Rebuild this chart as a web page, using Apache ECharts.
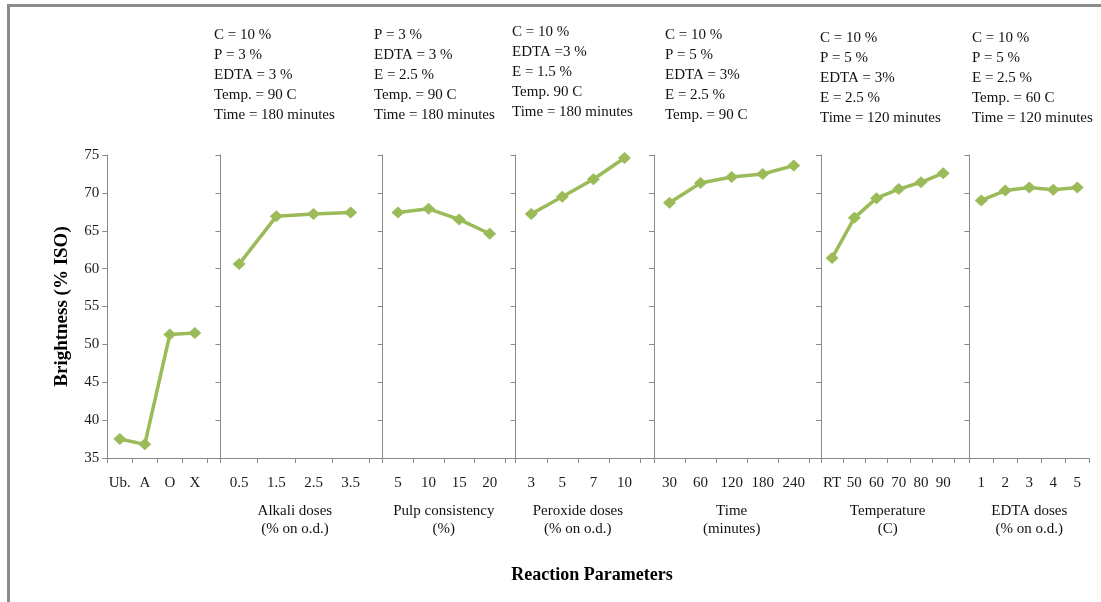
<!DOCTYPE html>
<html>
<head>
<meta charset="UTF-8">
<title>Brightness vs reaction parameters</title>
<style>
  html, body { margin: 0; padding: 0; background: #fff; }
  #main { width: 1101px; height: 602px; }
</style>
<script src="https://cdn.jsdelivr.net/npm/echarts@6/dist/echarts.min.js"></script>
</head>
<body>
<div id="main"></div>
<script>
// data
var stageCats = ['Ub.', 'A', 'O', 'X'];
var stageVals = [37.5, 36.8, 51.3, 51.5];
var alkaliCats = ['0.5', '1.5', '2.5', '3.5'];
var alkaliVals = [60.6, 66.9, 67.2, 67.4];
var pulpCats = ['5', '10', '15', '20'];
var pulpVals = [67.4, 67.9, 66.5, 64.6];
var peroxideCats = ['3', '5', '7', '10'];
var peroxideVals = [67.2, 69.5, 71.8, 74.6];
var timeCats = ['30', '60', '120', '180', '240'];
var timeVals = [68.7, 71.3, 72.1, 72.5, 73.6];
var tempCats = ['RT', '50', '60', '70', '80', '90'];
var tempVals = [61.4, 66.7, 69.3, 70.5, 71.4, 72.6];
var edtaCats = ['1', '2', '3', '4', '5'];
var edtaVals = [69.0, 70.3, 70.7, 70.4, 70.7];

var axisNames = ['', 'Alkali doses\n(% on o.d.)', 'Pulp consistency\n(%)', 'Peroxide doses\n(% on o.d.)',
  'Time\n(minutes)', 'Temperature\n(C)', 'EDTA doses\n(% on o.d.)'];

var notes = [
  ['C = 10 %', 'P = 3 %', 'EDTA = 3 %', 'Temp. = 90 C', 'Time = 180 minutes'],
  ['P = 3 %', 'EDTA = 3 %', 'E = 2.5 %', 'Temp. = 90 C', 'Time = 180 minutes'],
  ['C = 10 %', 'EDTA =3 %', 'E = 1.5 %', 'Temp. 90 C', 'Time = 180 minutes'],
  ['C = 10 %', 'P = 5 %', 'EDTA = 3%', 'E = 2.5 %', 'Temp. = 90 C'],
  ['C = 10 %', 'P = 5 %', 'EDTA = 3%', 'E = 2.5 %', 'Time = 120 minutes'],
  ['C = 10 %', 'P = 5 %', 'E = 2.5 %', 'Temp. = 60 C', 'Time = 120 minutes']
];

var allCats = [stageCats, alkaliCats, pulpCats, peroxideCats, timeCats, tempCats, edtaCats];
var allVals = [stageVals, alkaliVals, pulpVals, peroxideVals, timeVals, tempVals, edtaVals];

// layout (pixels)
var gridLeft = [107.3, 220.5, 382.7, 515.7, 654, 821, 969.3];
var gridRight = [207.3, 369.3, 505, 640, 809.3, 954.3, 1089.3];
var noteX = [214, 374, 512, 665, 820, 972];
var noteY = [25, 25, 22, 25, 28, 28];

var font = "'Liberation Serif', 'Times New Roman', serif";
var axisColor = '#898989';
var green = '#9BBB59';

var chart = echarts.init(document.getElementById('main'));

var grids = [], xAxes = [], yAxes = [], series = [];
for (var i = 0; i < allCats.length; i++) {
  grids.push({ left: gridLeft[i], width: gridRight[i] - gridLeft[i], top: 155, height: 303 });
  xAxes.push({
    type: 'category', gridIndex: i, data: allCats[i], boundaryGap: true,
    name: axisNames[i], nameLocation: 'middle', nameGap: 44,
    nameTextStyle: { fontFamily: font, fontSize: 15, color: '#111', lineHeight: 18 },
    axisLine: { show: true, lineStyle: { color: axisColor, width: 1 } },
    axisTick: { show: true, length: 5, lineStyle: { color: axisColor } },
    axisLabel: { interval: 0, margin: 18, fontFamily: font, fontSize: 15, color: '#1a1a1a' }
  });
  yAxes.push({
    type: 'value', gridIndex: i, min: 35, max: 75, interval: 5,
    name: i === 0 ? 'Brightness (% ISO)' : '', nameLocation: 'middle', nameGap: 36, nameRotate: 90,
    nameTextStyle: { fontFamily: font, fontSize: 19, fontWeight: 'bold', color: '#000' },
    axisLine: { show: true, lineStyle: { color: axisColor, width: 1 } },
    axisTick: { show: true, length: 5, lineStyle: { color: axisColor } },
    axisLabel: { show: i === 0, margin: 8, fontFamily: font, fontSize: 15, color: '#1a1a1a' },
    splitLine: { show: false }
  });
  series.push({
    type: 'line', xAxisIndex: i, yAxisIndex: i, data: allVals[i],
    symbol: 'diamond', symbolSize: [13, 12], showSymbol: true,
    lineStyle: { color: green, width: 3.5 },
    itemStyle: { color: green },
    animation: false
  });
}

// continuous baseline under all panels
grids.push({ left: gridLeft[0], width: gridRight[6] - gridLeft[0], top: 155, height: 303 });
xAxes.push({
  type: 'value', gridIndex: 7, min: 0, max: 1,
  axisLine: { show: true, lineStyle: { color: axisColor, width: 1 } },
  axisTick: { show: false }, axisLabel: { show: false }, splitLine: { show: false }
});
yAxes.push({ type: 'value', gridIndex: 7, min: 0, max: 1, show: false });

var graphics = [
  { type: 'line', shape: { x1: 8.5, y1: 5.5, x2: 1101, y2: 5.5 }, style: { stroke: '#8c8c8c', lineWidth: 3 } },
  { type: 'line', shape: { x1: 8.5, y1: 4, x2: 8.5, y2: 602 }, style: { stroke: '#8c8c8c', lineWidth: 3 } },
  { type: 'text', x: 592, y: 575,
    style: { text: 'Reaction Parameters', font: 'bold 18px ' + font, fill: '#000',
      textAlign: 'center', textVerticalAlign: 'middle', verticalAlign: 'middle' } }
];
for (var k = 0; k < notes.length; k++) {
  graphics.push({
    type: 'text', x: noteX[k], y: noteY[k],
    style: { text: notes[k].join('\n'), font: '15px ' + font, fill: '#111', lineHeight: 20 }
  });
}

chart.setOption({
  backgroundColor: '#fff',
  animation: false,
  grid: grids,
  xAxis: xAxes,
  yAxis: yAxes,
  series: series,
  graphic: graphics
});
</script>
</body>
</html>
